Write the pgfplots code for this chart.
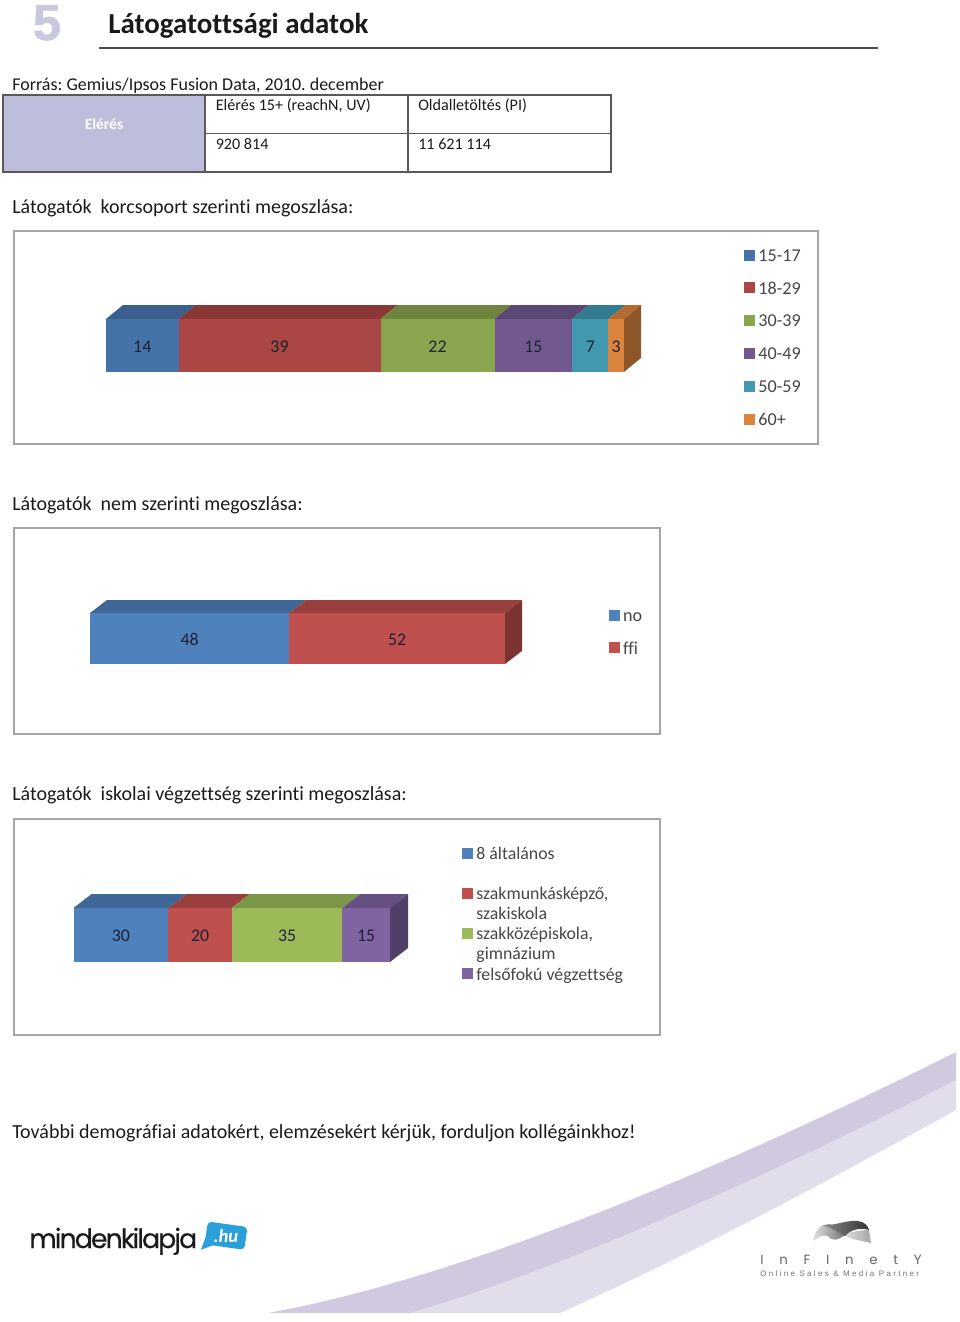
\documentclass[border=0pt]{standalone}
\usepackage{pgfplots}
\pgfplotsset{compat=1.18}
\usepackage{fontspec}
\setmainfont[Ligatures=NoCommon]{Carlito}
\newfontfamily\logofont{Poppins}
\newfontfamily\numfont{Liberation Sans}
\def\P{*0.75pt}
\definecolor{txt}{HTML}{1A1A1A}
\definecolor{lab}{HTML}{1C2233}
\definecolor{frame}{HTML}{A6A6A6}
% chart 1 colours
\definecolor{aA}{HTML}{4572A7}\definecolor{aAt}{HTML}{3A5F8C}
\definecolor{aB}{HTML}{AA4643}\definecolor{aBt}{HTML}{8A3836}
\definecolor{aC}{HTML}{89A54E}\definecolor{aCt}{HTML}{6F853F}
\definecolor{aD}{HTML}{71588F}\definecolor{aDt}{HTML}{5B4774}
\definecolor{aE}{HTML}{4198AF}\definecolor{aEt}{HTML}{337B8E}
\definecolor{aF}{HTML}{DB843D}\definecolor{aFt}{HTML}{B46B30}\definecolor{aFs}{HTML}{8F562A}
% chart 2/3 colours
\definecolor{bA}{HTML}{4F81BD}\definecolor{bAt}{HTML}{3F6797}
\definecolor{bB}{HTML}{C0504D}\definecolor{bBt}{HTML}{993F3D}\definecolor{bBs}{HTML}{7C3432}
\definecolor{bC}{HTML}{9BBB59}\definecolor{bCt}{HTML}{7C9647}
\definecolor{bD}{HTML}{8064A2}\definecolor{bDt}{HTML}{664F82}\definecolor{bDs}{HTML}{523F69}
\pgfplotsset{
  chartbase/.style={scale only axis,hide axis,clip=false,enlargelimits=false,anchor=south west,xmin=0,ymin=0,
    /pgf/number format/assume math mode=true},
  keylegend/.style={
    legend style={draw=none,fill=none,inner sep=0pt,anchor=north west,
      font=\fontsize{13.6pt}{13.6pt}\selectfont,text=black!72,
      nodes={inner sep=0pt,text height=9pt,text depth=2.5pt},
      row sep=#1,
      /tikz/every odd column/.append style={column sep=3.5\P}},
    legend cell align=left,
    legend image code/.code={\fill[##1] (0,-3\P) rectangle ++(10\P,10\P);},
  },
}
% one stacked segment: value, colour, y position of the bar centre
\newcommand\seg[3]{\addplot[fill=#2,draw=none,forget plot,
   nodes near coords,
   nodes near coords style={anchor=center,text=lab,font=\fontsize{13.4pt}{13.4pt}\selectfont,yshift=-1\P}]
   coordinates {(#1,#3)};}
\begin{document}
\frenchspacing
\begin{tikzpicture}
\path[use as bounding box] (0,0) rectangle (960\P,-1322\P);
\begin{scope}[x=0.75pt,y=0.75pt]
% background swoosh
\fill[color={rgb,255:red,226;green,221;blue,235}]
  (410,-1313) .. controls (560,-1270) and (760,-1180) .. (956,-1080) -- (956,-1110)
  .. controls (830,-1180) and (690,-1255) .. (560,-1313) -- cycle;
\fill[color={rgb,255:red,208;green,201;blue,223}]
  (268,-1313) .. controls (450,-1280) and (700,-1180) .. (956,-1052) -- (956,-1080)
  .. controls (760,-1180) and (560,-1270) .. (410,-1313) -- cycle;
% heading
\node[anchor=base,font={\numfont\bfseries\fontsize{38pt}{38pt}\selectfont\addfontfeatures{FakeBold=1.2}},text={rgb,255:red,200;green,200;blue,222}] at (47,-40) {5};
\node[anchor=base west,inner sep=0pt,font=\bfseries\fontsize{21.7pt}{22pt}\selectfont,text=txt] at (108,-33) {Látogatottsági adatok};
\draw[line width=1.1pt,black!70] (99,-48) -- (878,-48);
\node[anchor=base west,inner sep=0pt,font=\fontsize{13.5pt}{14pt}\selectfont,text=txt] at (12,-90) {Forrás: Gemius/Ipsos Fusion Data, 2010. december};
% table
\fill[color={rgb,255:red,189;green,189;blue,220}] (3,-95) rectangle (205,-172);
\draw[line width=0.8pt,black!65] (3,-95) rectangle (611,-172) (205,-95) -- (205,-172) (408,-95) -- (408,-172) (205,-133.5) -- (611,-133.5);
\node[font=\bfseries\fontsize{11.6pt}{12pt}\selectfont,text=white] at (104,-124.5) {Elérés};
\begin{scope}[every node/.style={anchor=base west,inner sep=0pt,font=\fontsize{12.1pt}{13pt}\selectfont,text=txt}]
\node at (215.5,-110) {Elérés 15+ (reachN, UV)};
\node at (418,-110) {Oldalletöltés (PI)};
\node at (215.5,-149) {920 814};
\node at (418,-149) {11 621 114};
\end{scope}
\begin{scope}[every node/.style={anchor=base west,inner sep=0pt,font=\fontsize{15pt}{16pt}\selectfont,text=txt}]
\node at (12,-213) {Látogatók\ \ korcsoport szerinti megoszlása:};
\node at (12,-510) {Látogatók\ \ nem szerinti megoszlása:};
\node at (12,-800) {Látogatók\ \ iskolai végzettség szerinti megoszlása:};
\node at (12,-1138) {További demográfiai adatokért, elemzésekért kérjük, forduljon kollégáinkhoz!};
\end{scope}
% chart frames
\draw[line width=1.1pt,frame,fill=white] (14,-231) rectangle (818,-444);
\draw[line width=1.1pt,frame,fill=white] (14,-528) rectangle (660,-734);
\draw[line width=1.1pt,frame,fill=white] (14,-819) rectangle (660,-1035);
% logos
\node[anchor=base west,inner sep=0pt,font={\logofont\fontsize{20pt}{20pt}\selectfont\addfontfeatures{LetterSpace=-7,FakeBold=0.3}},text=txt] at (29,-1248) {mindenkilapja};
\begin{scope}[rotate around={-8:(225,-1236)}]
\fill[color={rgb,255:red,42;green,159;blue,216},rounded corners=3pt] (206,-1224) rectangle (246,-1247);
\fill[color={rgb,255:red,42;green,159;blue,216}] (206,-1240) -- (203,-1253) -- (216,-1246) -- cycle;
\node[font=\bfseries\itshape\fontsize{14pt}{14pt}\selectfont,text=white] at (226,-1236) {.hu};
\end{scope}
\shade[left color=black!12,right color=black!55] (813,-1241) .. controls (815,-1230) and (820,-1224) .. (830,-1224) .. controls (836,-1226) and (840,-1232) .. (845,-1235) .. controls (838,-1240) and (832,-1242) .. (828,-1236) .. controls (822,-1234) and (818,-1238) .. (813,-1241) -- cycle;
\shade[left color=black!12,right color=black!35] (843,-1234) .. controls (852,-1232) and (860,-1230) .. (869,-1230) -- (871,-1243) .. controls (860,-1240) and (850,-1240) .. (843,-1234) -- cycle;
\shade[left color=black!45,right color=black!80] (822,-1225) .. controls (835,-1226) and (845,-1220) .. (858,-1221) .. controls (865,-1222) and (868,-1226) .. (869,-1230) .. controls (860,-1227) and (850,-1230) .. (845,-1236) .. controls (838,-1232) and (830,-1227) .. (822,-1225) -- cycle;
\node[anchor=base west,inner sep=0pt,text=black!60,font={\logofont\fontsize{10pt}{10pt}\selectfont\addfontfeatures{LetterSpace=118}}] at (760,-1264) {InFInetY};
\node[anchor=base west,inner sep=0pt,text=black!55,font={\numfont\fontsize{6pt}{6pt}\selectfont\addfontfeatures{LetterSpace=29}}] at (760,-1276) {Online Sales \& Media Partner};
\end{scope}
% ---------- chart 1
\begin{axis}[chartbase,at={(106\P,-372\P)},width=535\P,height=67\P,
  xmax=103.28,ymax=67,keylegend=13.1pt,
  legend style={at={(axis cs:123.2,123)}}]
\addplot[fill=aAt,draw=none,forget plot] coordinates {(0,53) (14,53) (17.28,67) (3.28,67)} --cycle;
\addplot[fill=aBt,draw=none,forget plot] coordinates {(14,53) (53,53) (56.28,67) (17.28,67)} --cycle;
\addplot[fill=aCt,draw=none,forget plot] coordinates {(53,53) (75,53) (78.28,67) (56.28,67)} --cycle;
\addplot[fill=aDt,draw=none,forget plot] coordinates {(75,53) (90,53) (93.28,67) (78.28,67)} --cycle;
\addplot[fill=aEt,draw=none,forget plot] coordinates {(90,53) (97,53) (100.28,67) (93.28,67)} --cycle;
\addplot[fill=aFt,draw=none,forget plot] coordinates {(97,53) (100,53) (103.28,67) (100.28,67)} --cycle;
\addplot[fill=aFs,draw=none,forget plot] coordinates {(100,0) (103.28,14) (103.28,67) (100,53)} --cycle;
\addlegendimage{aA}\addlegendentry{15-17}
\addlegendimage{aB}\addlegendentry{18-29}
\addlegendimage{aC}\addlegendentry{30-39}
\addlegendimage{aD}\addlegendentry{40-49}
\addlegendimage{aE}\addlegendentry{50-59}
\addlegendimage{aF}\addlegendentry{60+}
\end{axis}
\begin{axis}[chartbase,at={(106\P,-372\P)},width=535\P,height=67\P,
  xmax=103.28,ymax=67,xbar stacked,bar width=53\P]
\seg{14}{aA}{26.5}
\seg{39}{aB}{26.5}
\seg{22}{aC}{26.5}
\seg{15}{aD}{26.5}
\seg{7}{aE}{26.5}
\seg{3}{aF}{26.5}
\end{axis}
% ---------- chart 2
\begin{axis}[chartbase,at={(90\P,-664\P)},width=432\P,height=64\P,
  xmax=104.1,ymax=64,keylegend=13.1pt,
  legend style={at={(axis cs:125,55)}}]
\addplot[fill=bAt,draw=none,forget plot] coordinates {(0,51) (48,51) (52.1,64) (4.1,64)} --cycle;
\addplot[fill=bBt,draw=none,forget plot] coordinates {(48,51) (100,51) (104.1,64) (52.1,64)} --cycle;
\addplot[fill=bBs,draw=none,forget plot] coordinates {(100,0) (104.1,13) (104.1,64) (100,51)} --cycle;
\addlegendimage{bA}\addlegendentry{no}
\addlegendimage{bB}\addlegendentry{ffi}
\end{axis}
\begin{axis}[chartbase,at={(90\P,-664\P)},width=432\P,height=64\P,
  xmax=104.1,ymax=64,xbar stacked,bar width=51\P]
\seg{48}{bA}{25.5}
\seg{52}{bB}{25.5}
\end{axis}
% ---------- chart 3
\begin{axis}[chartbase,at={(73.5\P,-962\P)},width=334.5\P,height=68\P,
  xmax=105.7,ymax=68,keylegend=3.6pt,
  legend style={at={(axis cs:122.8,115)},font=\fontsize{13.35pt}{13.35pt}\selectfont}]
\addplot[fill=bAt,draw=none,forget plot] coordinates {(0,54) (30,54) (35.7,68) (5.7,68)} --cycle;
\addplot[fill=bBt,draw=none,forget plot] coordinates {(30,54) (50,54) (55.7,68) (35.7,68)} --cycle;
\addplot[fill=bCt,draw=none,forget plot] coordinates {(50,54) (85,54) (90.7,68) (55.7,68)} --cycle;
\addplot[fill=bDt,draw=none,forget plot] coordinates {(85,54) (100,54) (105.7,68) (90.7,68)} --cycle;
\addplot[fill=bDs,draw=none,forget plot] coordinates {(100,0) (105.7,14) (105.7,68) (100,54)} --cycle;
\addlegendimage{bA}\addlegendentry{8 általános}
\addlegendimage{empty legend}\addlegendentry{}
\addlegendimage{bB}\addlegendentry{szakmunkásképző,}
\addlegendimage{empty legend}\addlegendentry{szakiskola}
\addlegendimage{bC}\addlegendentry{szakközépiskola,}
\addlegendimage{empty legend}\addlegendentry{gimnázium}
\addlegendimage{bD}\addlegendentry{felsőfokú végzettség}
\end{axis}
\begin{axis}[chartbase,at={(73.5\P,-962\P)},width=334.5\P,height=68\P,
  xmax=105.7,ymax=68,xbar stacked,bar width=54\P]
\seg{30}{bA}{27}
\seg{20}{bB}{27}
\seg{35}{bC}{27}
\seg{15}{bD}{27}
\end{axis}
\end{tikzpicture}
\end{document}
